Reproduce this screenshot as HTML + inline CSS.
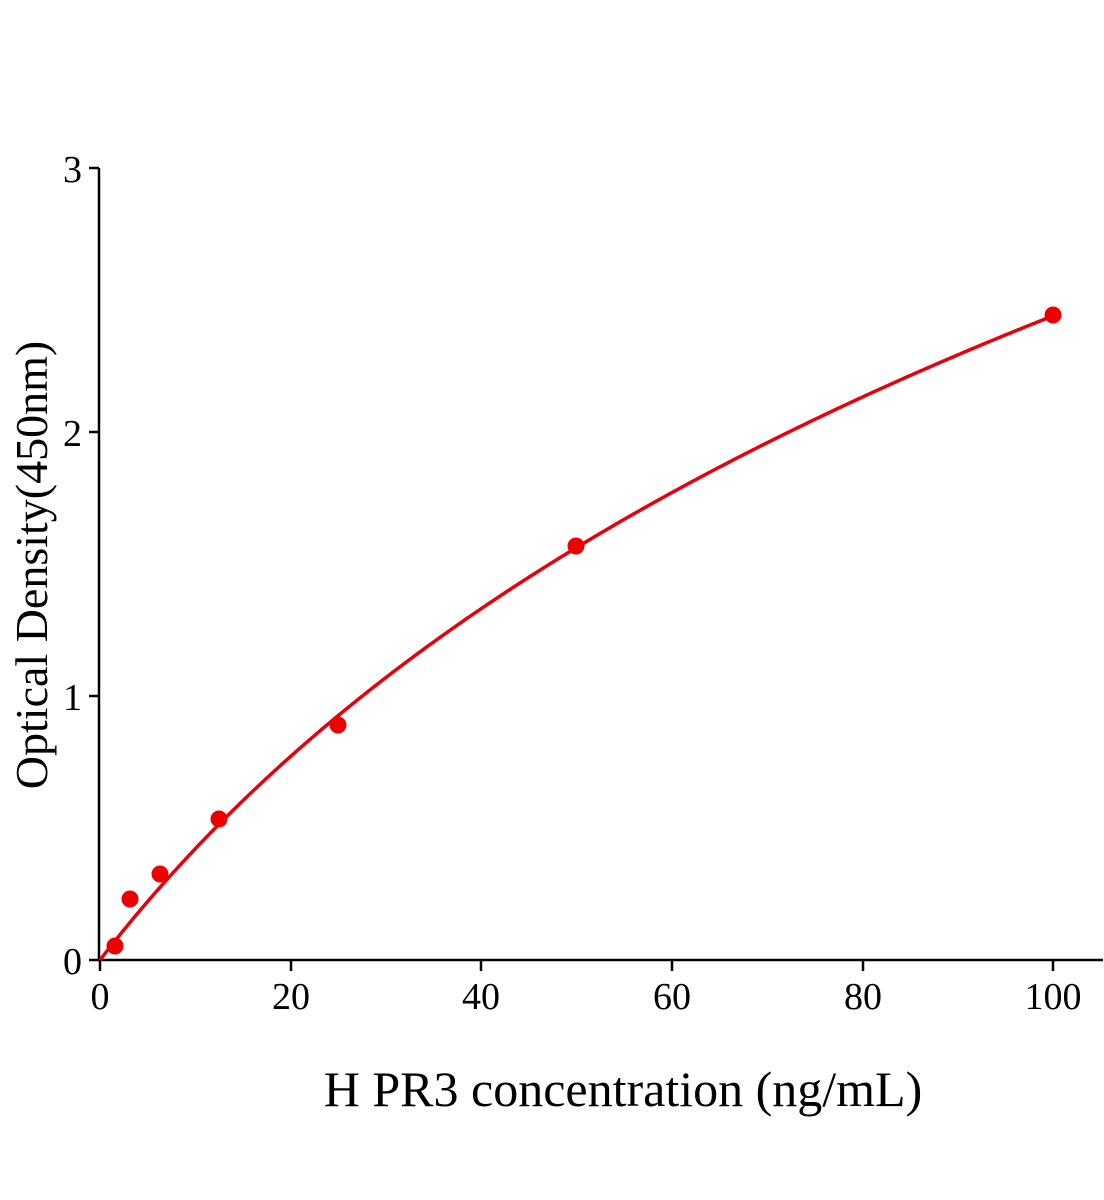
<!DOCTYPE html>
<html><head><meta charset="utf-8"><style>
html,body{margin:0;padding:0;background:#fff;}
svg{display:block;}
text{font-family:"Liberation Serif",serif;fill:#000;}
</style></head><body>
<svg id="s" width="1104" height="1200" viewBox="0 0 1104 1200">
<g stroke="#000" stroke-width="2.5" fill="none">
<line x1="99" y1="168" x2="99" y2="961"/>
<line x1="98" y1="960" x2="1103" y2="960"/>
<line x1="89" y1="168" x2="99" y2="168"/>
<line x1="89" y1="432" x2="99" y2="432"/>
<line x1="89" y1="696" x2="99" y2="696"/>
<line x1="89" y1="960" x2="99" y2="960"/>
<line x1="100" y1="960" x2="100" y2="971"/>
<line x1="291" y1="960" x2="291" y2="971"/>
<line x1="481" y1="960" x2="481" y2="971"/>
<line x1="672" y1="960" x2="672" y2="971"/>
<line x1="863" y1="960" x2="863" y2="971"/>
<line x1="1053" y1="960" x2="1053" y2="971"/>
</g>
<g font-size="38" text-anchor="end">
<text x="82" y="182">3</text>
<text x="82" y="446">2</text>
<text x="82" y="710">1</text>
<text x="82" y="974">0</text>
</g>
<g font-size="38" text-anchor="middle">
<text x="100" y="1009">0</text>
<text x="291" y="1009">20</text>
<text x="481" y="1009">40</text>
<text x="672" y="1009">60</text>
<text x="863" y="1009">80</text>
<text x="1053" y="1009">100</text>
</g>
<text x="623" y="1106" font-size="50" text-anchor="middle">H PR3 concentration (ng/mL)</text>
<text transform="translate(47,565) rotate(-90)" font-size="46" text-anchor="middle">Optical Density(450nm)</text>
<path id="c" fill="none" stroke="#e8000b" stroke-width="3.5"/>
<g fill="#ee0000">
<circle cx="115" cy="946" r="8.5"/>
<circle cx="130" cy="899" r="8.5"/>
<circle cx="160" cy="874" r="8.5"/>
<circle cx="219" cy="819" r="8.5"/>
<circle cx="338" cy="725" r="8.5"/>
<circle cx="576" cy="546" r="8.5"/>
<circle cx="1053" cy="315" r="8.5"/>
</g>
</svg>
<script>
var d="";
for(var i=0;i<=400;i++){
var x=i*0.25;
var y=2.058*Math.log(1+x/44);
var px=100+x*9.53, py=960-y*264;
d+=(i?" L":"M")+px.toFixed(2)+","+py.toFixed(2);
}
document.getElementById("c").setAttribute("d",d);
</script>
</body></html>
